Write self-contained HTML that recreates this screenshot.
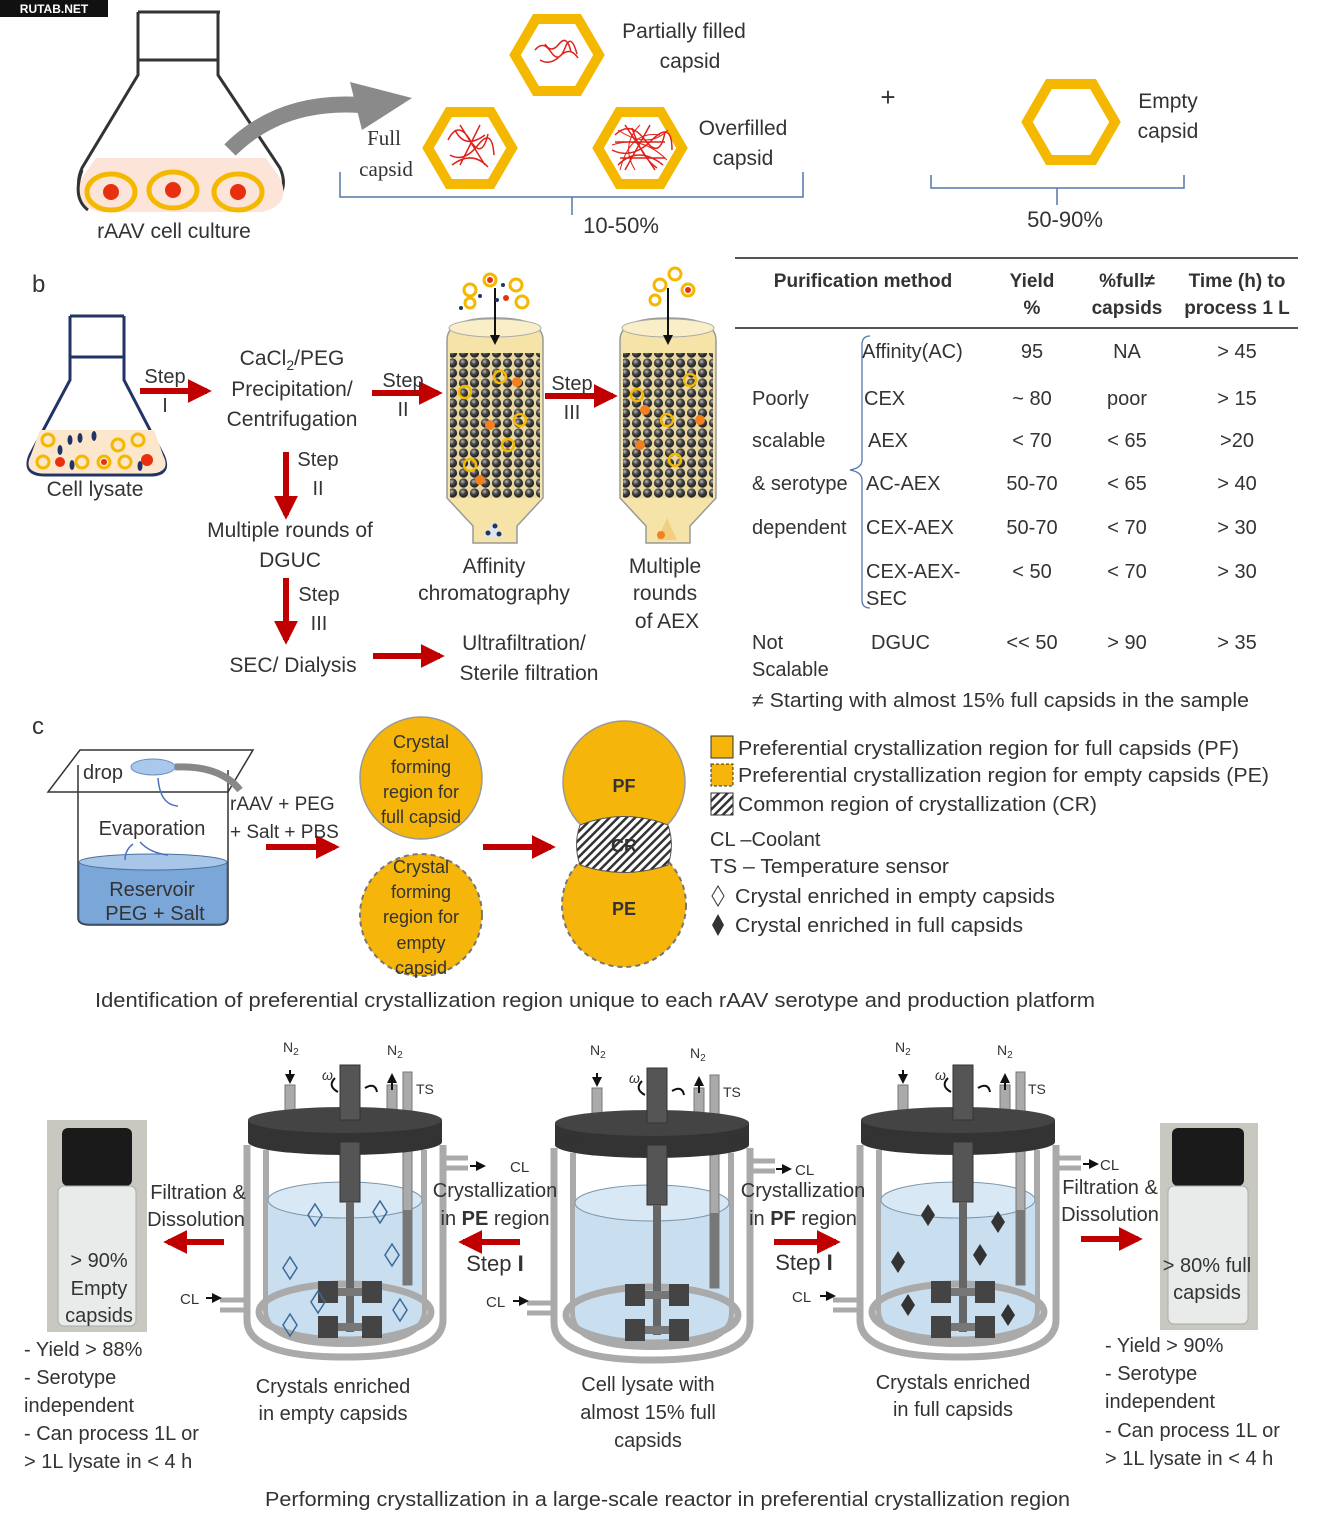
<!DOCTYPE html>
<html><head><meta charset="utf-8"><style>
html,body{margin:0;padding:0;background:#fff}
svg{display:block}
text{font-family:"Liberation Sans","DejaVu Sans",sans-serif;fill:#333}
</style></head><body>
<svg width="1327" height="1539" viewBox="0 0 1327 1539" xmlns="http://www.w3.org/2000/svg">
<defs>
<marker id="ar" viewBox="0 0 10 10" refX="8" refY="5" markerWidth="4" markerHeight="4" orient="auto"><path d="M0,0L10,5L0,10z" fill="#c00000"/></marker>
<marker id="ak" viewBox="0 0 10 10" refX="8" refY="5" markerWidth="5" markerHeight="5" orient="auto"><path d="M0,0L10,5L0,10z" fill="#111"/></marker>
<radialGradient id="bead" cx="0.4" cy="0.35" r="0.6"><stop offset="0" stop-color="#bbb"/><stop offset="0.5" stop-color="#444"/><stop offset="1" stop-color="#222"/></radialGradient>
<pattern id="beads" width="11" height="10" patternUnits="userSpaceOnUse"><rect width="11" height="10" fill="#e8d7a0"/><circle cx="5.5" cy="5" r="4.6" fill="url(#bead)"/></pattern>
<pattern id="hatch" width="6" height="6" patternUnits="userSpaceOnUse" patternTransform="rotate(45)"><rect width="6" height="6" fill="#fff"/><rect width="2.5" height="6" fill="#333"/></pattern>
<g id="reactor">
 <rect x="45" y="55" width="10" height="28" fill="#aaa" stroke="#777"/>
 <rect x="147" y="55" width="10" height="28" fill="#aaa" stroke="#777"/>
 <rect x="163" y="42" width="9" height="60" fill="#aaa" stroke="#777"/>
 <path d="M7,115 V290 Q7,327 105,327 Q203,327 203,290 V115" fill="none" stroke="#aaa" stroke-width="7"/>
 <path d="M26,120 V280 Q26,314 105,314 Q184,314 184,280 V120" fill="#fff" stroke="#aaa" stroke-width="6"/>
 <path d="M28,170 V280 Q28,311 105,311 Q182,311 182,280 V170 Z" fill="#c9dff0"/>
 <ellipse cx="105" cy="170" rx="77" ry="18" fill="#d8e8f4" stroke="#7a96ad" stroke-width="1"/>
 <ellipse cx="105" cy="282" rx="86" ry="28" fill="none" stroke="#aaa" stroke-width="7"/>
 <path d="M203,128 H228 M203,138 H228" stroke="#aaa" stroke-width="5" fill="none"/>
 <path d="M7,270 H-20 M7,280 H-20" stroke="#aaa" stroke-width="5" fill="none"/>
 <rect x="163" y="100" width="9" height="155" fill="#aaa" stroke="#777"/>
 <rect x="163" y="180" width="9" height="75" fill="#777"/>
 <rect x="8" y="90" width="194" height="22" fill="#333"/>
 <ellipse cx="105" cy="112" rx="97" ry="13" fill="#333"/>
 <ellipse cx="105" cy="90" rx="97" ry="13" fill="#444"/>
 <rect x="100" y="35" width="20" height="55" fill="#555" stroke="#333"/>
 <rect x="100" y="112" width="20" height="60" fill="#555" stroke="#333"/>
 <rect x="106" y="172" width="8" height="130" fill="#666"/>
 <rect x="85" y="258" width="50" height="8" fill="#777"/>
 <rect x="78" y="251" width="20" height="22" fill="#444"/><rect x="122" y="251" width="20" height="22" fill="#444"/>
 <rect x="85" y="293" width="50" height="8" fill="#777"/>
 <rect x="78" y="286" width="20" height="22" fill="#444"/><rect x="122" y="286" width="20" height="22" fill="#444"/>
 <path d="M95,48 q-8,8 3,14 M125,58 q10,-6 12,4" fill="none" stroke="#111" stroke-width="2"/>
 <path d="M50,40 V52" stroke="#111" stroke-width="2" marker-end="url(#ak)"/>
 <path d="M152,60 V45" stroke="#111" stroke-width="2" marker-end="url(#ak)"/>
</g>
<g id="col">
 <path d="M0,22 Q0,0 48,0 Q96,0 96,22 V180 L70,208 V225 H26 V208 L0,180 Z" fill="#f6e3a8" stroke="#999" stroke-width="1.5"/>
 <ellipse cx="48" cy="10" rx="46" ry="9" fill="#f9eec8" stroke="#aaa"/>
 <rect x="3" y="35" width="90" height="145" fill="url(#beads)"/>
 <path d="M48,-30 V25" stroke="#111" stroke-width="2" marker-end="url(#ak)"/>
</g>
</defs>

<rect x="0" y="0" width="108" height="17" fill="#111"/>
<text x="54" y="13" font-size="12" font-weight="bold" text-anchor="middle" style="fill:#fff">RUTAB.NET</text>

<path d="M138,12 H220 M138,12 V60 H218 V12 M138,60 V75 L82,168 Q70,195 100,210 H262 Q292,195 280,168 L218,75 V60" fill="#fff" stroke="#333" stroke-width="3"/>
<path d="M96,158 H266 L280,178 Q292,205 262,212 H100 Q70,205 82,178 Z" fill="#fde4d8"/>
<g fill="none" stroke="#f5b800" stroke-width="5">
<ellipse cx="111" cy="192" rx="24" ry="18"/><ellipse cx="173" cy="190" rx="24" ry="18"/><ellipse cx="238" cy="192" rx="24" ry="18"/></g>
<circle cx="111" cy="192" r="8" fill="#e83010"/><circle cx="173" cy="190" r="8" fill="#e83010"/><circle cx="238" cy="192" r="8" fill="#e83010"/>
<path d="M88,210 Q72,198 82,170" fill="none" stroke="#333" stroke-width="3"/>
<text x="174" y="238" font-size="21" text-anchor="middle">rAAV  cell culture</text>
<path d="M230,150 Q280,100 360,105" fill="none" stroke="#8a8a8a" stroke-width="16"/>
<path d="M350,82 L412,98 L362,130 Z" fill="#8a8a8a"/>

<g fill="none" stroke="#f5b800" stroke-width="10">
<polygon points="515,55 536,19 578,19 599,55 578,91 536,91"/>
<polygon points="428,148 449,112 491,112 512,148 491,184 449,184"/>
<polygon points="598,148 619,112 661,112 682,148 661,184 619,184"/>
<polygon points="1027,122 1049,84 1093,84 1115,122 1093,160 1049,160"/>
</g>
<g stroke="#e0201a" stroke-width="1.5" fill="none">
<path d="M535,50 q8,-10 16,2 t14,-4 t12,6 M540,60 q10,6 20,-4 t18,2 M545,44 q6,10 14,0 t12,8"/>
<path d="M448,140 q10,-20 22,0 t18,-6 M450,155 q14,8 28,-10 t16,10 M455,130 q10,20 30,5 M452,165 q20,-15 36,2 M460,125 l25,40 M480,125 l-20,40"/>
<path d="M615,135 q15,-15 30,5 t20,-8 M612,150 q20,10 40,-10 t20,10 M618,165 q20,-20 45,0 M625,125 l30,45 M650,125 l-25,45 M615,142 h50 M620,158 h45 M632,128 q10,30 25,40"/>
</g>
<g stroke="#e0201a" stroke-width="1" fill="none"><path d="M618,130 q30,20 50,0 M612,145 q30,-10 55,15 M620,170 q10,-40 40,-35 M640,125 q-20,20 -5,45"/></g>
<text x="684" y="38" font-size="21" text-anchor="middle">Partially filled</text>
<text x="690" y="68" font-size="21" text-anchor="middle">capsid</text>
<text x="384" y="145" font-size="21" text-anchor="middle" style="font-family:'Liberation Serif',serif">Full</text>
<text x="386" y="176" font-size="21" text-anchor="middle" style="font-family:'Liberation Serif',serif">capsid</text>
<text x="743" y="135" font-size="21" text-anchor="middle">Overfilled</text>
<text x="743" y="165" font-size="21" text-anchor="middle">capsid</text>
<text x="888" y="106" font-size="26" text-anchor="middle">+</text>
<text x="1168" y="108" font-size="21" text-anchor="middle">Empty</text>
<text x="1168" y="138" font-size="21" text-anchor="middle">capsid</text>
<path d="M340,172 V197 H803 V172 M572,197 V215" fill="none" stroke="#5577aa" stroke-width="1.5"/>
<path d="M931,175 V188 H1184 V175 M1057,188 V205" fill="none" stroke="#5577aa" stroke-width="1.5"/>
<text x="621" y="233" font-size="22" text-anchor="middle">10-50%</text>
<text x="1065" y="227" font-size="22" text-anchor="middle">50-90%</text>

<text x="32" y="292" font-size="24">b</text>
<path d="M70,316 H124 M70,316 V357 H124 V316 M70,357 V380 L30,455 Q22,475 45,475 H150 Q172,475 163,455 L124,380 V357" fill="#fff" stroke="#223366" stroke-width="3"/>
<path d="M40,430 H154 L163,455 Q172,473 150,473 H45 Q22,473 31,455 Z" fill="#fce6cc"/>
<g fill="none" stroke="#f5b800" stroke-width="3"><circle cx="48" cy="440" r="6"/><circle cx="118" cy="445" r="6"/><circle cx="138" cy="440" r="6"/><circle cx="43" cy="462" r="6"/><circle cx="82" cy="462" r="6"/><circle cx="104" cy="462" r="6"/><circle cx="125" cy="462" r="6"/></g>
<g fill="#e83010"><circle cx="60" cy="462" r="5"/><circle cx="104" cy="462" r="3"/><circle cx="147" cy="460" r="6"/></g>
<g fill="#223366"><ellipse cx="70" cy="440" rx="2.5" ry="5"/><ellipse cx="80" cy="438" rx="2.5" ry="5"/><ellipse cx="94" cy="436" rx="2.5" ry="5"/><ellipse cx="60" cy="450" rx="2.5" ry="5"/><ellipse cx="72" cy="465" rx="2.5" ry="5"/><ellipse cx="140" cy="466" rx="2.5" ry="5"/></g>
<text x="95" y="496" font-size="21" text-anchor="middle">Cell lysate</text>

<g stroke="#c00000" stroke-width="6" fill="none" marker-end="url(#ar)">
<path d="M140,391 H207"/><path d="M372,393 H438"/><path d="M545,396 H613"/>
<path d="M286,452 V515"/><path d="M286,578 V640"/><path d="M373,656 H440"/>
<path d="M266,847 H335"/><path d="M483,847 H551"/>
<path d="M224,1242 H168"/><path d="M520,1242 H463"/><path d="M774,1242 H836"/><path d="M1081,1239 H1138"/>
</g>
<text x="165" y="383" font-size="20" text-anchor="middle">Step</text>
<text x="165" y="412" font-size="20" text-anchor="middle">I</text>
<text x="292" y="365" font-size="21" text-anchor="middle">CaCl<tspan font-size="14" dy="5">2</tspan><tspan dy="-5">/PEG</tspan></text>
<text x="292" y="396" font-size="21" text-anchor="middle">Precipitation/</text>
<text x="292" y="426" font-size="21" text-anchor="middle">Centrifugation</text>
<text x="403" y="387" font-size="20" text-anchor="middle">Step</text>
<text x="403" y="416" font-size="20" text-anchor="middle">II</text>
<text x="572" y="390" font-size="20" text-anchor="middle">Step</text>
<text x="572" y="419" font-size="20" text-anchor="middle">III</text>
<text x="318" y="466" font-size="20" text-anchor="middle">Step</text>
<text x="318" y="495" font-size="20" text-anchor="middle">II</text>
<text x="290" y="537" font-size="21" text-anchor="middle">Multiple rounds  of</text>
<text x="290" y="567" font-size="21" text-anchor="middle">DGUC</text>
<text x="319" y="601" font-size="20" text-anchor="middle">Step</text>
<text x="319" y="630" font-size="20" text-anchor="middle">III</text>
<text x="293" y="672" font-size="21" text-anchor="middle">SEC/ Dialysis</text>
<text x="524" y="650" font-size="21" text-anchor="middle">Ultrafiltration/</text>
<text x="529" y="680" font-size="21" text-anchor="middle">Sterile filtration</text>

<use href="#col" x="447" y="318"/>
<use href="#col" x="620" y="318"/>
<g fill="none" stroke="#f5b800" stroke-width="3"><circle cx="470" cy="290" r="6"/><circle cx="490" cy="280" r="6"/><circle cx="516" cy="285" r="6"/><circle cx="470" cy="303" r="5"/><circle cx="522" cy="302" r="6"/>
<circle cx="660" cy="285" r="6"/><circle cx="675" cy="274" r="6"/><circle cx="688" cy="290" r="6"/><circle cx="655" cy="300" r="5"/></g>
<g fill="#e83010"><circle cx="490" cy="280" r="3"/><circle cx="688" cy="290" r="3"/><circle cx="506" cy="298" r="3"/></g>
<g fill="#223366"><circle cx="480" cy="296" r="2"/><circle cx="497" cy="300" r="2"/><circle cx="503" cy="285" r="2"/><circle cx="461" cy="308" r="2"/></g>
<g fill="none" stroke="#f5b800" stroke-width="2.5"><circle cx="465" cy="392" r="6"/><circle cx="500" cy="377" r="6"/><circle cx="520" cy="420" r="6"/><circle cx="470" cy="465" r="6"/><circle cx="508" cy="445" r="6"/><circle cx="637" cy="395" r="6"/><circle cx="690" cy="380" r="6"/><circle cx="667" cy="420" r="6"/><circle cx="675" cy="460" r="6"/></g>
<g fill="#f08020"><circle cx="517" cy="382" r="5"/><circle cx="490" cy="425" r="5"/><circle cx="480" cy="480" r="5"/><circle cx="645" cy="410" r="5"/><circle cx="700" cy="420" r="5"/><circle cx="640" cy="445" r="5"/></g>
<path d="M483,537 L493,522 L503,537 Z" fill="#dde4ef"/><g fill="#223366"><circle cx="488" cy="533" r="2.5"/><circle cx="495" cy="526" r="2.5"/><circle cx="499" cy="534" r="2.5"/></g>
<path d="M657,540 L667,518 L677,540 Z" fill="#f0d080"/><circle cx="661" cy="535" r="4" fill="#f08020"/>
<text x="494" y="573" font-size="21" text-anchor="middle">Affinity</text>
<text x="494" y="600" font-size="21" text-anchor="middle">chromatography</text>
<text x="665" y="573" font-size="21" text-anchor="middle">Multiple</text>
<text x="665" y="600" font-size="21" text-anchor="middle">rounds</text>
<text x="667" y="628" font-size="21" text-anchor="middle">of AEX</text>

<line x1="735" y1="258" x2="1298" y2="258" stroke="#555" stroke-width="2"/>
<line x1="735" y1="328" x2="1298" y2="328" stroke="#555" stroke-width="2"/>
<g font-size="19" font-weight="bold" text-anchor="middle">
<text x="863" y="287">Purification method</text>
<text x="1032" y="287">Yield</text><text x="1032" y="314">%</text>
<text x="1127" y="287">%full≠</text><text x="1127" y="314">capsids</text>
<text x="1237" y="287">Time (h) to</text><text x="1237" y="314">process 1 L</text>
</g>
<path d="M870,336 Q862,336 862,345 V460 Q862,468 850,470 Q862,472 862,480 V600 Q862,608 870,608" fill="none" stroke="#5577aa" stroke-width="1.3"/>
<g font-size="20">
<text x="752" y="405">Poorly</text><text x="752" y="447">scalable</text><text x="752" y="490">&amp; serotype</text><text x="752" y="534">dependent</text>
<text x="752" y="649">Not</text><text x="752" y="676">Scalable</text>
<text x="862" y="358">Affinity(AC)</text><text x="864" y="405">CEX</text><text x="868" y="447">AEX</text><text x="866" y="490">AC-AEX</text><text x="866" y="534">CEX-AEX</text><text x="866" y="578">CEX-AEX-</text><text x="866" y="605">SEC</text><text x="871" y="649">DGUC</text>
</g>
<g font-size="20" text-anchor="middle">
<text x="1032" y="358">95</text><text x="1032" y="405">~ 80</text><text x="1032" y="447">&lt; 70</text><text x="1032" y="490">50-70</text><text x="1032" y="534">50-70</text><text x="1032" y="578">&lt; 50</text><text x="1032" y="649">&lt;&lt; 50</text>
<text x="1127" y="358">NA</text><text x="1127" y="405">poor</text><text x="1127" y="447">&lt; 65</text><text x="1127" y="490">&lt; 65</text><text x="1127" y="534">&lt; 70</text><text x="1127" y="578">&lt; 70</text><text x="1127" y="649">&gt; 90</text>
<text x="1237" y="358">&gt; 45</text><text x="1237" y="405">&gt; 15</text><text x="1237" y="447">&gt;20</text><text x="1237" y="490">&gt; 40</text><text x="1237" y="534">&gt; 30</text><text x="1237" y="578">&gt; 30</text><text x="1237" y="649">&gt; 35</text>
</g>
<text x="752" y="707" font-size="20" textLength="497" lengthAdjust="spacingAndGlyphs">≠ Starting with almost 15% full capsids in the sample</text>

<text x="32" y="734" font-size="24">c</text>
<path d="M78,846 V918 Q78,925 90,925 H218 Q228,925 228,918 V846" fill="#fff" stroke="#333" stroke-width="1.5"/>
<path d="M79,862 Q153,848 227,862 V918 Q227,924 218,924 H90 Q79,924 79,918 Z" fill="#7aa6d8" stroke="#4a70a0"/>
<ellipse cx="153" cy="862" rx="74" ry="8" fill="#a8c6e8" stroke="#4a70a0"/>
<path d="M78,846 V765 M228,846 V770" stroke="#333" stroke-width="1.5"/>
<path d="M80,750 H253 L228,792 H48 Z" fill="none" stroke="#333" stroke-width="1.5"/>
<ellipse cx="153" cy="767" rx="22" ry="8" fill="#aac8ec" stroke="#6a90c0"/>
<path d="M175,767 Q220,765 240,790" fill="none" stroke="#888" stroke-width="7"/>
<path d="M158,778 Q160,805 178,806" fill="none" stroke="#4a70c0" stroke-width="1.5"/>
<path d="M140,842 Q150,853 168,855 M125,860 Q125,850 133,844" fill="none" stroke="#4a70c0" stroke-width="1.5"/>
<text x="103" y="779" font-size="20" text-anchor="middle">drop</text>
<text x="152" y="835" font-size="20" text-anchor="middle">Evaporation</text>
<text x="152" y="896" font-size="20" text-anchor="middle">Reservoir</text>
<text x="155" y="920" font-size="20" text-anchor="middle">PEG + Salt</text>
<text x="230" y="810" font-size="19">rAAV + PEG</text>
<text x="230" y="838" font-size="19">+ Salt + PBS</text>

<circle cx="421" cy="778" r="61" fill="#f5b50b" stroke="#999" stroke-width="1.5"/>
<circle cx="421" cy="915" r="61" fill="#f5b50b" stroke="#777" stroke-width="2" stroke-dasharray="5,4"/>
<g font-size="18" text-anchor="middle">
<text x="421" y="748">Crystal</text><text x="421" y="773">forming</text><text x="421" y="798">region for</text><text x="421" y="823">full capsid</text>
<text x="421" y="873">Crystal</text><text x="421" y="898">forming</text><text x="421" y="923">region for</text><text x="421" y="949">empty</text><text x="421" y="974">capsid</text>
</g>
<circle cx="624" cy="782" r="61" fill="#f5b50b" stroke="#999" stroke-width="1.5"/>
<circle cx="624" cy="905" r="62" fill="#f5b50b" stroke="#777" stroke-width="2" stroke-dasharray="5,4"/>
<path d="M580,825 Q624,808 668,825 A62,62 0 0 1 668,865 Q624,880 580,865 A61,61 0 0 1 580,825 Z" fill="url(#hatch)" stroke="#555"/>
<text x="624" y="792" font-size="18" font-weight="bold" text-anchor="middle">PF</text>
<text x="624" y="852" font-size="18" font-weight="bold" text-anchor="middle">CR</text>
<text x="624" y="915" font-size="18" font-weight="bold" text-anchor="middle">PE</text>

<rect x="711" y="736" width="22" height="22" fill="#f5b50b" stroke="#333"/>
<rect x="711" y="764" width="22" height="22" fill="#f5b50b" stroke="#333" stroke-dasharray="3,2"/>
<rect x="711" y="793" width="22" height="22" fill="url(#hatch)" stroke="#333"/>
<g font-size="20">
<text x="738" y="755" textLength="501" lengthAdjust="spacingAndGlyphs">Preferential crystallization region for full capsids (PF)</text>
<text x="738" y="782" textLength="531" lengthAdjust="spacingAndGlyphs">Preferential crystallization region for empty capsids (PE)</text>
<text x="738" y="811" textLength="359" lengthAdjust="spacingAndGlyphs">Common region of crystallization (CR)</text>
<text x="710" y="846">CL –Coolant</text>
<text x="710" y="873" textLength="239" lengthAdjust="spacingAndGlyphs">TS – Temperature sensor</text>
<text x="735" y="903" textLength="320" lengthAdjust="spacingAndGlyphs">Crystal enriched in empty capsids</text>
<text x="735" y="932" textLength="288" lengthAdjust="spacingAndGlyphs">Crystal enriched in full capsids</text>
</g>
<path d="M718,886 L724,896 L718,906 L712,896 Z" fill="#fff" stroke="#333"/>
<path d="M718,914 L724,925 L718,936 L712,925 Z" fill="#333"/>
<text x="95" y="1007" font-size="20" textLength="1000" lengthAdjust="spacingAndGlyphs">Identification of preferential crystallization region unique to each rAAV serotype and  production platform</text>

<use href="#reactor" x="240" y="1030"/>
<use href="#reactor" x="547" y="1033"/>
<use href="#reactor" x="853" y="1030"/>
<g font-size="14">
<text x="283" y="1052">N<tspan font-size="10" dy="3">2</tspan></text><text x="387" y="1055">N<tspan font-size="10" dy="3">2</tspan></text><text x="416" y="1094">TS</text><text x="322" y="1080" font-style="italic">ω</text>
<text x="590" y="1055">N<tspan font-size="10" dy="3">2</tspan></text><text x="690" y="1058">N<tspan font-size="10" dy="3">2</tspan></text><text x="723" y="1097">TS</text><text x="629" y="1083" font-style="italic">ω</text>
<text x="895" y="1052">N<tspan font-size="10" dy="3">2</tspan></text><text x="997" y="1055">N<tspan font-size="10" dy="3">2</tspan></text><text x="1028" y="1094">TS</text><text x="935" y="1080" font-style="italic">ω</text>
</g>
<g fill="none" stroke="#3a6a9a" stroke-width="1.5">
<path d="M0,-11 L7,0 L0,11 L-7,0 Z" transform="translate(315,1215)"/>
<path d="M0,-11 L7,0 L0,11 L-7,0 Z" transform="translate(380,1212)"/>
<path d="M0,-11 L7,0 L0,11 L-7,0 Z" transform="translate(290,1268)"/>
<path d="M0,-11 L7,0 L0,11 L-7,0 Z" transform="translate(392,1255)"/>
<path d="M0,-11 L7,0 L0,11 L-7,0 Z" transform="translate(318,1302)"/>
<path d="M0,-11 L7,0 L0,11 L-7,0 Z" transform="translate(400,1310)"/>
<path d="M0,-11 L7,0 L0,11 L-7,0 Z" transform="translate(290,1325)"/>
</g>
<g fill="#333">
<path d="M0,-11 L7,0 L0,11 L-7,0 Z" transform="translate(928,1215)"/>
<path d="M0,-11 L7,0 L0,11 L-7,0 Z" transform="translate(998,1222)"/>
<path d="M0,-11 L7,0 L0,11 L-7,0 Z" transform="translate(898,1262)"/>
<path d="M0,-11 L7,0 L0,11 L-7,0 Z" transform="translate(980,1255)"/>
<path d="M0,-11 L7,0 L0,11 L-7,0 Z" transform="translate(908,1305)"/>
<path d="M0,-11 L7,0 L0,11 L-7,0 Z" transform="translate(1008,1315)"/>
</g>
<g font-size="15">
<text x="510" y="1172">CL</text><text x="795" y="1175">CL</text><text x="1100" y="1170">CL</text>
<text x="180" y="1304">CL</text><text x="486" y="1307">CL</text><text x="792" y="1302">CL</text>
</g>
<g stroke="#111" stroke-width="2" marker-end="url(#ak)"><path d="M470,1166 H484"/><path d="M776,1169 H790"/><path d="M1083,1164 H1097"/><path d="M206,1298 H220"/><path d="M513,1301 H527"/><path d="M820,1296 H834"/></g>

<rect x="47" y="1120" width="100" height="212" fill="#c8c8c0"/>
<rect x="62" y="1128" width="70" height="58" rx="6" fill="#1a1a1a"/>
<rect x="58" y="1186" width="78" height="140" rx="6" fill="#e8ebea" stroke="#aaa"/>
<rect x="1160" y="1123" width="98" height="207" fill="#c8c8c0"/>
<rect x="1172" y="1128" width="72" height="58" rx="6" fill="#1a1a1a"/>
<rect x="1168" y="1186" width="80" height="138" rx="6" fill="#e8ebea" stroke="#aaa"/>
<g font-size="20" text-anchor="middle">
<text x="99" y="1267">&gt; 90%</text><text x="99" y="1295">Empty</text><text x="99" y="1322">capsids</text>
<text x="1207" y="1272">&gt; 80% full</text><text x="1207" y="1299">capsids</text>
<text x="198" y="1199">Filtration &amp;</text><text x="196" y="1226">Dissolution</text>
<text x="495" y="1197">Crystallization</text><text x="495" y="1225">in <tspan font-weight="bold">PE</tspan> region</text>
<text x="803" y="1197">Crystallization</text><text x="803" y="1225">in <tspan font-weight="bold">PF</tspan> region</text>
<text x="1110" y="1194">Filtration &amp;</text><text x="1110" y="1221">Dissolution</text>
<text x="495" y="1271" font-size="22">Step <tspan font-weight="bold">I</tspan></text>
<text x="804" y="1270" font-size="22">Step <tspan font-weight="bold">I</tspan></text>
<text x="333" y="1393">Crystals enriched</text><text x="333" y="1420">in empty capsids</text>
<text x="648" y="1391">Cell lysate with</text><text x="648" y="1419">almost 15% full</text><text x="648" y="1447">capsids</text>
<text x="953" y="1389">Crystals enriched</text><text x="953" y="1416">in full capsids</text>
</g>
<g font-size="20">
<text x="24" y="1356">- Yield &gt; 88%</text><text x="24" y="1384">- Serotype</text><text x="24" y="1412">independent</text><text x="24" y="1440">- Can process 1L or</text><text x="24" y="1468">&gt;  1L lysate in &lt; 4 h</text>
<text x="1105" y="1352">- Yield &gt; 90%</text><text x="1105" y="1380">- Serotype</text><text x="1105" y="1408">independent</text><text x="1105" y="1437">- Can process 1L or</text><text x="1105" y="1465">&gt;  1L lysate in &lt; 4 h</text>
</g>
<text x="265" y="1506" font-size="20" textLength="805" lengthAdjust="spacingAndGlyphs">Performing crystallization in a large-scale reactor in preferential crystallization region</text>
</svg>
</body></html>
